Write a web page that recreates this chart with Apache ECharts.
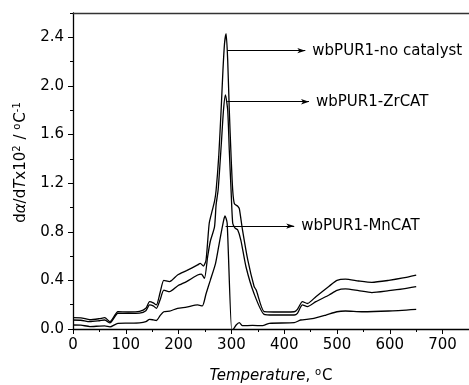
<!DOCTYPE html>
<html>
<head>
<meta charset="utf-8">
<title>DTG</title>
<script src="https://cdn.jsdelivr.net/npm/echarts@6/dist/echarts.min.js"></script>
<style>
  html, body { margin: 0; padding: 0; background: #fff; }
  #chart { width: 469px; height: 385px; }
</style>
</head>
<body>
<div id="chart"></div>
<script>
// wbPUR1-no catalyst
var noCatT = [0, 15, 32, 50, 60, 70, 85, 105, 126, 138, 145, 152, 158, 165, 172, 183, 198, 215, 236, 241, 247, 252, 258, 264, 268, 271, 276, 280.5, 284, 287, 290, 293, 296, 299.4, 302.5, 305.7, 312, 315, 321, 331, 343, 347, 362, 380, 400, 419, 425, 434.5, 444, 460, 485, 500, 516, 541, 566, 598, 625, 650];
var noCatY = [0.093, 0.092, 0.076, 0.085, 0.093, 0.06, 0.142, 0.14, 0.145, 0.17, 0.225, 0.215, 0.198, 0.30, 0.40, 0.39, 0.444, 0.48, 0.527, 0.54, 0.518, 0.568, 0.87, 0.98, 1.05, 1.14, 1.42, 1.80, 2.13, 2.35, 2.43, 2.21, 1.80, 1.42, 1.14, 1.03, 1.01, 0.99, 0.815, 0.568, 0.35, 0.32, 0.142, 0.14, 0.14, 0.142, 0.162, 0.225, 0.21, 0.266, 0.352, 0.40, 0.41, 0.395, 0.384, 0.40, 0.42, 0.444];

// wbPUR1-ZrCAT
var zrT = [0, 15, 32, 50, 60, 70, 85, 105, 126, 138, 145, 152, 158, 165, 172, 183, 198, 215, 236, 243, 249, 255, 260, 268, 271, 275, 281, 285, 288.7, 293, 296, 299.4, 302.5, 307, 312, 318, 327.7, 343, 362, 380, 400, 419, 425, 434.5, 444, 460, 485, 500, 516, 541, 566, 598, 625, 650];
var zrY = [0.074, 0.072, 0.06, 0.068, 0.074, 0.05, 0.129, 0.128, 0.13, 0.15, 0.198, 0.19, 0.17, 0.24, 0.32, 0.307, 0.354, 0.39, 0.444, 0.452, 0.417, 0.595, 0.72, 0.84, 1.02, 1.15, 1.53, 1.80, 1.926, 1.80, 1.47, 1.14, 0.87, 0.83, 0.815, 0.73, 0.51, 0.29, 0.12, 0.115, 0.115, 0.115, 0.129, 0.198, 0.184, 0.225, 0.28, 0.318, 0.33, 0.315, 0.30, 0.315, 0.33, 0.348];

// wbPUR1-MnCAT
var mnT = [0, 15, 32, 50, 60, 70, 85, 105, 126, 138, 145, 152, 158, 165, 172, 183, 198, 215, 236, 245, 252, 260, 270, 278, 285.5, 288, 292, 300.6, 304, 309, 315, 321, 340, 359, 372, 419, 431, 453, 479, 500, 516, 547, 598, 650];
var mnY = [0.033, 0.032, 0.02, 0.024, 0.025, 0.017, 0.047, 0.048, 0.05, 0.06, 0.08, 0.075, 0.07, 0.11, 0.142, 0.147, 0.17, 0.18, 0.198, 0.19, 0.29, 0.40, 0.54, 0.73, 0.897, 0.93, 0.87, -0.01, 0.0, 0.033, 0.052, 0.027, 0.03, 0.027, 0.047, 0.052, 0.074, 0.085, 0.115, 0.142, 0.148, 0.142, 0.148, 0.162];

var seriesNames = ['wbPUR1-no catalyst', 'wbPUR1-ZrCAT', 'wbPUR1-MnCAT'];
// arrow: [x start, x end, y]
var arrows = [[292, 440, 2.29], [292, 447, 1.87], [289, 419, 0.847]];

function pairs(t, v) {
  var out = [];
  for (var i = 0; i < t.length; i++) out.push([t[i], v[i]]);
  return out;
}

var font = 'DejaVu Sans, sans-serif';
var lists = [[noCatT, noCatY], [zrT, zrY], [mnT, mnY]];
var series = [];
for (var k = 0; k < 3; k++) {
  series.push({
    name: seriesNames[k],
    type: 'line',
    data: pairs(lists[k][0], lists[k][1]),
    showSymbol: false,
    smooth: 0.2,
    lineStyle: { color: '#000', width: 1.3 },
    markLine: {
      silent: true,
      symbol: ['none', 'arrow'],
      symbolSize: [4, 8],
      lineStyle: { color: '#000', width: 1, type: 'solid' },
      label: {
        show: true, position: 'end', distance: 7,
        color: '#000', fontFamily: font, fontSize: 15,
        formatter: seriesNames[k]
      },
      data: [[
        { coord: [arrows[k][0], arrows[k][2]] },
        { coord: [arrows[k][1], arrows[k][2]] }
      ]]
    }
  });
}

var chart = echarts.init(document.getElementById('chart'));
chart.setOption({
  animation: false,
  grid: { left: 73, top: 13, right: 0, bottom: 56, outerBoundsMode: 'none' },
  xAxis: [
    {
      type: 'value', min: 0, max: 750, interval: 100, position: 'bottom',
      splitLine: { show: false },
      axisLine: { lineStyle: { color: '#000', width: 1.3 } },
      axisTick: { length: 5, lineStyle: { color: '#000' } },
      axisLabel: {
        color: '#000', fontFamily: font, fontSize: 15, margin: 9,
        formatter: function (v) { return v % 100 === 0 && v <= 700 ? String(v) : ''; }
      },
      name: '{i|Temperature}{n|, }{s|o}{n|C}',
      nameLocation: 'middle', nameGap: 38,
      nameTextStyle: {
        rich: {
          i: { fontFamily: font, fontSize: 15, fontStyle: 'italic', color: '#000' },
          n: { fontFamily: font, fontSize: 15, color: '#000' },
          s: { fontFamily: font, fontSize: 10, color: '#000', padding: [0, 1, 8, 0] }
        }
      }
    },
    {
      type: 'value', min: 0, max: 750, interval: 50, position: 'bottom',
      splitLine: { show: false }, axisLine: { show: false },
      axisTick: { length: 3, lineStyle: { color: '#000' } },
      axisLabel: { show: false }
    },
    {
      type: 'value', min: 0, max: 750, position: 'top',
      splitLine: { show: false },
      axisLine: { lineStyle: { color: '#333', width: 1.3 } },
      axisTick: { show: false }, axisLabel: { show: false }
    }
  ],
  yAxis: [
    {
      type: 'value', min: 0, max: 2.6, interval: 0.4, position: 'left',
      splitLine: { show: false },
      axisLine: { show: true, lineStyle: { color: '#000', width: 1.3 } },
      axisTick: { show: true, length: 5, lineStyle: { color: '#000' } },
      axisLabel: {
        color: '#000', fontFamily: font, fontSize: 15, margin: 9, showMaxLabel: false,
        formatter: function (v) { return v.toFixed(1); }
      },
      name: '{n|d}{i|α}{n|/d}{i|T}{n|x10}{s|2}{n| / }{s|o}{n|C}{s|-1}',
      nameLocation: 'middle', nameGap: 43,
      nameTextStyle: {
        padding: [0, 0, 0, 18],
        rich: {
          i: { fontFamily: font, fontSize: 15, fontStyle: 'italic', color: '#000' },
          n: { fontFamily: font, fontSize: 15, color: '#000' },
          s: { fontFamily: font, fontSize: 10, color: '#000', padding: [0, 1, 8, 0] }
        }
      }
    },
    {
      type: 'value', min: 0, max: 2.6, interval: 0.2, position: 'left',
      splitLine: { show: false }, axisLine: { show: false },
      axisTick: { show: true, length: 3, lineStyle: { color: '#000' } },
      axisLabel: { show: false }
    }
  ],
  series: series
});
</script>
</body>
</html>
